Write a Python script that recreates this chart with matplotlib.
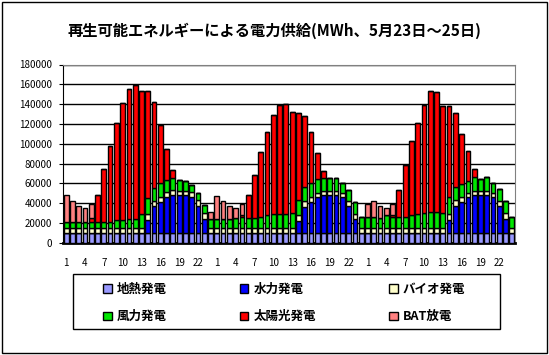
import matplotlib
matplotlib.use("Agg")
import matplotlib.pyplot as plt
import numpy as np

plt.rcParams['font.family'] = ['Noto Sans CJK JP', 'DejaVu Sans']

# hour of day, three days (5/23 - 5/25)
hours = list(range(1, 25)) * 3

# MWh per hour
geothermal = [9500] * 72

hydro = [0] * 13 + [13500, 27500, 31500, 37000, 38500, 38500, 38500, 37000, 27500, 14000, 0] + \
        [0] * 13 + [12800, 27000, 31400, 36500, 38500, 38500, 38500, 36500, 27300, 14200, 0] + \
        [0] * 13 + [13100, 27650, 32000, 36300, 38400, 38400, 38400, 36300, 27600, 14100, 0]

bio = [5000] * 13 + [6000, 5500, 5500, 5000, 5000, 4500, 4500, 4500, 6000, 6000, 5000] + \
      [5000] * 13 + [6000, 6100, 5700, 4500, 4700, 4700, 4700, 4700, 5800, 5400, 5000] + \
      [5000] * 13 + [6500, 5700, 5000, 4100, 4700, 4700, 4700, 4100, 5400, 6100, 5000]

wind = [6800, 6800, 6800, 6800, 6100, 6800, 6800, 6800, 8100, 8100, 9800, 9800, 14200,
        16000, 12600, 13500, 11400, 12200, 10400, 9400, 7100, 7000, 8500, 9200] + \
       [9200, 9200, 9200, 10200, 11200, 10200, 10200, 11500, 13200, 14200, 14200, 14200, 15200,
        14700, 13400, 13500, 14100, 12400, 12400, 12400, 9400, 10300, 11600, 11200] + \
       [11100, 11100, 10100, 13100, 11100, 11100, 11800, 13300, 14300, 16000, 16800, 16800, 16000,
        16800, 13900, 12500, 12800, 14100, 12100, 13500, 10800, 11400, 12800, 11100]

solar = [0, 0, 0, 0, 4100, 26700, 53400, 76400, 98400, 118700, 131200, 134600, 124400,
         108000, 87000, 59000, 31700, 8500, 0, 0, 0, 0, 0, 0] + \
        [0, 0, 0, 0, 2400, 23300, 43800, 65600, 84300, 100300, 110300, 111300, 102600,
         88000, 71600, 51400, 26400, 7300, 0, 0, 0, 0, 0, 0] + \
        [0, 0, 0, 0, 2700, 27350, 52300, 75100, 91900, 108700, 121900, 120800, 107100,
         91800, 74300, 50500, 29600, 7400, 0, 0, 0, 0, 0, 0]

battery = [26700, 20600, 15900, 13500, 14200] + [0] * 18 + [7800] + \
          [23600, 18200, 13500, 10100, 10800] + [0] * 19 + \
          [13000, 16100, 12000, 7100, 10300] + [0] * 19

names = ['地熱発電', '水力発電', 'バイオ発電', '風力発電', '太陽光発電', 'BAT放電']
colors = ['#9999FF', '#0000FF', '#FFFFCC', '#00E600', '#FF0000', '#FF8080']
series = [geothermal, hydro, bio, wind, solar, battery]

fig = plt.figure(figsize=(5.49, 3.55), dpi=100)
ax = fig.add_axes([63 / 549, 1 - 242.7 / 355, (515 - 63) / 549, (242.7 - 64.5) / 355])

x = np.arange(72)
bottom = np.zeros(72)
handles = []
for name, col, vals in zip(names, colors, series):
    vals = np.array(vals, dtype=float)
    h = ax.bar(x, vals, bottom=bottom, width=0.76, color=col, edgecolor='black',
               linewidth=1.0, label=name, zorder=3)
    handles.append(h)
    bottom += vals

ax.set_xlim(-0.5, 71.5)
ax.set_ylim(0, 180000)
ax.set_yticks(np.arange(0, 180001, 20000))
ax.set_yticklabels([str(v) for v in range(0, 180001, 20000)], fontsize=7)
ax.yaxis.grid(True, color='black', linewidth=1)
ax.set_axisbelow(True)

tick_pos = [i for i in range(72) if hours[i] % 3 == 1]
ax.set_xticks(tick_pos)
ax.set_xticklabels([str(hours[i]) for i in tick_pos], fontsize=7)
ax.tick_params(axis='x', length=0, pad=11)
ax.tick_params(axis='y', length=3, pad=5)

ax.spines['top'].set_color('#808080')
ax.spines['right'].set_color('#808080')
ax.spines['left'].set_color('black')
ax.spines['bottom'].set_color('black')
ax.spines['bottom'].set_linewidth(2)

fig.text(0.5, 1 - 31 / 355, '再生可能エネルギーによる電力供給(MWh、5月23日〜25日)',
         ha='center', va='center', fontsize=11, weight='bold')

# legend box drawn separately, entries spread inside it
fig.patches.append(plt.Rectangle((73 / 549, 1 - 329 / 355), 427 / 549, 55 / 355,
                                 transform=fig.transFigure, fill=False,
                                 edgecolor='black', linewidth=1))

# rows are 地熱/水力/バイオ and 風力/太陽光/BAT
order = [0, 3, 1, 4, 2, 5]
leg = fig.legend([handles[i] for i in order], [names[i] for i in order], ncol=3,
                 loc='lower left', mode='expand',
                 bbox_to_anchor=(94 / 549, 1 - 332 / 355, 380 / 549, 50 / 355),
                 frameon=False, handlelength=0.7, handleheight=0.7, handletextpad=0.4,
                 borderpad=0.2, labelspacing=1.15, columnspacing=1.0,
                 prop={'weight': 'bold', 'size': 9})

fig.patches.append(plt.Rectangle((0.004, 0.006), 0.992, 0.988, transform=fig.transFigure,
                                 fill=False, edgecolor='black', linewidth=1))

fig.savefig('out.png', dpi=100)
